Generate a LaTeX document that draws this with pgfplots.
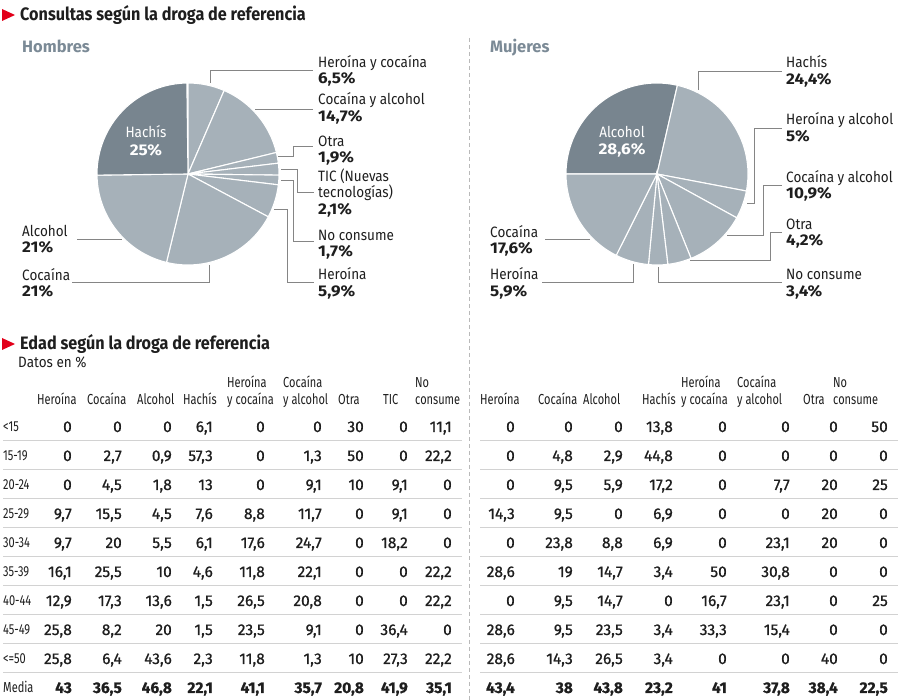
\documentclass[border=0pt]{standalone}
\usepackage{pgfplots}
\pgfplotsset{compat=1.18}
\usepackage{fontspec}
\setmainfont{Fira Sans}
\newfontfamily\condfont{Fira Sans}[FakeStretch=0.9]
\newfontfamily\titlefont{Fira Sans}[FakeStretch=0.9]
\newfontfamily\hdrfont{Fira Sans}[FakeStretch=0.76]
\newfontfamily\numfont{Fira Sans}[FakeBold=0.8]
\newfontfamily\pctfont{Fira Sans}[FakeStretch=1.1]
\definecolor{piedark}{HTML}{78858F}
\definecolor{pielight}{HTML}{A6B1B9}
\definecolor{headgray}{HTML}{7B8A96}
\definecolor{leader}{HTML}{858585}
\definecolor{rowline}{HTML}{D2D2D2}
\definecolor{redmark}{HTML}{E2001A}
\definecolor{ink}{HTML}{1E1E1E}
\pgfkeys{/pgf/number format/.cd,use comma,assume math mode=true}
\def\colsL{{72,122,172,213,265,322,364,408,452}}
\def\colsR{{515,573,623,673,727,790,838,888}}
\begin{document}
\begin{tikzpicture}
\begin{axis}[at={(0,0)},anchor=south west,scale only axis,width=900pt,height=700pt,
  xmin=0,xmax=900,ymin=0,ymax=700,y dir=reverse,hide axis,clip=false]
% Hombres pie: clockwise from 12 o'clock
\gdef\curang{90}
\foreach \v/\col in {6.5/pielight,14.7/pielight,1.9/pielight,2.1/pielight,1.7/pielight,5.9/pielight,21/pielight,21/pielight,25/piedark}{
  \pgfmathsetmacro\endang{\curang-3.6*\v}
  \edef\temp{\noexpand\fill[\col,draw=white,line width=1.1pt] (axis cs:188,174) -- ++(\curang:91pt) arc[start angle=\curang,end angle=\endang,radius=91pt] -- cycle;}
  \temp
  \xdef\curang{\endang}
}
% Mujeres pie: clockwise from 9 o'clock
\gdef\curang{180}
\foreach \v/\col in {28.6/piedark,24.4/pielight,5/pielight,10.9/pielight,4.2/pielight,3.4/pielight,5.9/pielight,17.6/pielight}{
  \pgfmathsetmacro\endang{\curang-3.6*\v}
  \edef\temp{\noexpand\fill[\col,draw=white,line width=1.1pt] (axis cs:657,174) -- ++(\curang:91pt) arc[start angle=\curang,end angle=\endang,radius=91pt] -- cycle;}
  \temp
  \xdef\curang{\endang}
}
\end{axis}
\begin{scope}[x=1pt,y=-1pt,shift={(0pt,700pt)},
  lbl/.style={anchor=base west,inner sep=0pt,text=ink,font=\condfont\fontsize{15}{17}\selectfont},
  pct/.style={anchor=base west,inner sep=0pt,text=ink,font=\pctfont\bfseries\fontsize{15.5}{17}\selectfont},
  hdr/.style={anchor=base west,inner sep=0pt,text=ink,font=\hdrfont\fontsize{14.5}{16}\selectfont},
  num/.style={anchor=base east,inner sep=0pt,text=ink,font=\numfont\fontsize{15.5}{17}\selectfont},
  ld/.style={draw=leader,line width=0.8pt}]
% titles
\fill[redmark] (2,9) -- (15,15) -- (2,21) -- cycle;
\node[anchor=base west,inner sep=0pt,text=ink,font=\titlefont\bfseries\fontsize{18}{20}\selectfont] at (20,21) {Consultas según la droga de referencia};
\node[anchor=base west,inner sep=0pt,text=headgray,font=\bfseries\fontsize{16.5}{18}\selectfont] at (22,53) {Hombres};
\node[anchor=base west,inner sep=0pt,text=headgray,font=\bfseries\fontsize{16.5}{18}\selectfont] at (490,53) {Mujeres};
\draw[gray!55,dash pattern=on 4pt off 3pt,line width=0.8pt] (469,38) -- (469,700);
% Hombres labels
\node[lbl] at (318,68) {Heroína y cocaína}; \node[pct] at (318,84) {6,5\%};
\node[lbl] at (318,105) {Cocaína y alcohol}; \node[pct] at (318,122) {14,7\%};
\node[lbl] at (318,147) {Otra}; \node[pct] at (318,163) {1,9\%};
\node[lbl] at (318,182) {TIC (Nuevas}; \node[lbl] at (318,198) {tecnologías)}; \node[pct] at (318,215) {2,1\%};
\node[lbl] at (318,241) {No consume}; \node[pct] at (318,257) {1,7\%};
\node[lbl] at (318,280) {Heroína}; \node[pct] at (318,297) {5,9\%};
\node[lbl] at (22,237) {Alcohol}; \node[pct] at (22,253) {21\%};
\node[lbl] at (22,281) {Cocaína}; \node[pct] at (22,297) {21\%};
\node[lbl,anchor=base,text=white] at (146,138) {Hachís};
\node[pct,anchor=base,text=white] at (146,156) {25\%};
\draw[ld] (210,83) -- (210,70) -- (313,70);
\draw[ld] (255,109) -- (313,109);
\draw[ld] (278,156) -- (293,156) -- (293,146) -- (313,146);
\draw[ld] (281,169) -- (297,169) -- (297,192) -- (314,192);
\draw[ld] (281,180) -- (293,180) -- (293,241) -- (314,241);
\draw[ld] (274,209) -- (287,209) -- (287,282) -- (314,282);
\draw[ld] (209,265) -- (209,282) -- (72,282);
\draw[ld] (77,239) -- (122,239);
% Mujeres labels
\node[lbl] at (786,68) {Hachís}; \node[pct] at (786,85) {24,4\%};
\node[lbl] at (786,125) {Heroína y alcohol}; \node[pct] at (786,142) {5\%};
\node[lbl] at (786,183) {Cocaína y alcohol}; \node[pct] at (786,199) {10,9\%};
\node[lbl] at (786,230) {Otra}; \node[pct] at (786,246) {4,2\%};
\node[lbl] at (786,280) {No consume}; \node[pct] at (786,297) {3,4\%};
\node[lbl] at (490,238) {Cocaína}; \node[pct] at (490,254) {17,6\%};
\node[lbl] at (490,280) {Heroína}; \node[pct] at (490,297) {5,9\%};
\node[lbl,anchor=base,text=white] at (622,138) {Alcohol};
\node[pct,anchor=base,text=white] at (622,155) {28,6\%};
\draw[ld] (698,90) -- (698,71) -- (782,71);
\draw[ld] (747,203) -- (754,203) -- (754,128) -- (782,128);
\draw[ld] (727,235) -- (763,235) -- (763,185) -- (782,185);
\draw[ld] (690,260) -- (770,260) -- (770,232) -- (782,232);
\draw[ld] (658,267) -- (658,282) -- (782,282);
\draw[ld] (633,264) -- (633,282) -- (542,282);
\draw[ld] (590,239) -- (545,239);
% table titles
\fill[redmark] (2,338) -- (15,344) -- (2,350) -- cycle;
\node[anchor=base west,inner sep=0pt,text=ink,font=\titlefont\bfseries\fontsize{18}{20}\selectfont] at (20,350) {Edad según la droga de referencia};
\node[anchor=base west,inner sep=0pt,text=ink,font=\condfont\fontsize{15}{17}\selectfont] at (18,368) {Datos en \%};
% table headers
\foreach \hx/\ha/\hb in {37//Heroína,87//Cocaína,137//Alcohol,183//Hachís,227/Heroína/y cocaína,283/Cocaína/y alcohol,338//Otra,383//TIC,415/No/consume,
  480//Heroína,538//Cocaína,583//Alcohol,642//Hachís,681/Heroína/y cocaína,737/Cocaína/y alcohol,803//Otra,833/No/consume}{
  \node[hdr] at (\hx,388) {\ha};
  \node[hdr] at (\hx,405) {\hb};
}
% table rows
\foreach \lab/\lv/\rv [count=\r from 0] in {
  <15/{0,0,0,6.1,0,0,30,0,11.1}/{0,0,0,13.8,0,0,0,50},
  15-19/{0,2.7,0.9,57.3,0,1.3,50,0,22.2}/{0,4.8,2.9,44.8,0,0,0,0},
  20-24/{0,4.5,1.8,13,0,9.1,10,9.1,0}/{0,9.5,5.9,17.2,0,7.7,20,25},
  25-29/{9.7,15.5,4.5,7.6,8.8,11.7,0,9.1,0}/{14.3,9.5,0,6.9,0,0,20,0},
  30-34/{9.7,20,5.5,6.1,17.6,24.7,0,18.2,0}/{0,23.8,8.8,6.9,0,23.1,20,0},
  35-39/{16.1,25.5,10,4.6,11.8,22.1,0,0,22.2}/{28.6,19,14.7,3.4,50,30.8,0,0},
  40-44/{12.9,17.3,13.6,1.5,26.5,20.8,0,0,22.2}/{0,9.5,14.7,0,16.7,23.1,0,25},
  45-49/{25.8,8.2,20,1.5,23.5,9.1,0,36.4,0}/{28.6,9.5,23.5,3.4,33.3,15.4,0,0},
  <=50/{25.8,6.4,43.6,2.3,11.8,1.3,10,27.3,22.2}/{28.6,14.3,26.5,3.4,0,0,40,0},
  Media/{43,36.5,46.8,22.1,41.1,35.7,20.8,41.9,35.1}/{43.4,38,43.8,23.2,41,37.8,38.4,22.5}}{
  \pgfmathsetmacro\yb{432+29*\r}
  \ifnum\r=9 \gdef\nf{\bfseries}\else\gdef\nf{}\fi
  \node[hdr] at (3,\yb) {\lab};
  \foreach \v [count=\c from 0] in \lv {
    \pgfmathsetmacro\xx{\colsL[\c]}
    \node[num] at (\xx,\yb) {\nf\pgfmathprintnumber{\v}};
  }
  \foreach \v [count=\c from 0] in \rv {
    \pgfmathsetmacro\xx{\colsR[\c]}
    \node[num] at (\xx,\yb) {\nf\pgfmathprintnumber{\v}};
  }
  \ifnum\r<9
    \draw[rowline,line width=1pt] (3,\yb+8.5) -- (462,\yb+8.5);
    \draw[rowline,line width=1pt] (480,\yb+8.5) -- (898,\yb+8.5);
  \fi
}
\pgfresetboundingbox
\path (0,0) rectangle (900,700);
\end{scope}
\end{tikzpicture}
\end{document}
